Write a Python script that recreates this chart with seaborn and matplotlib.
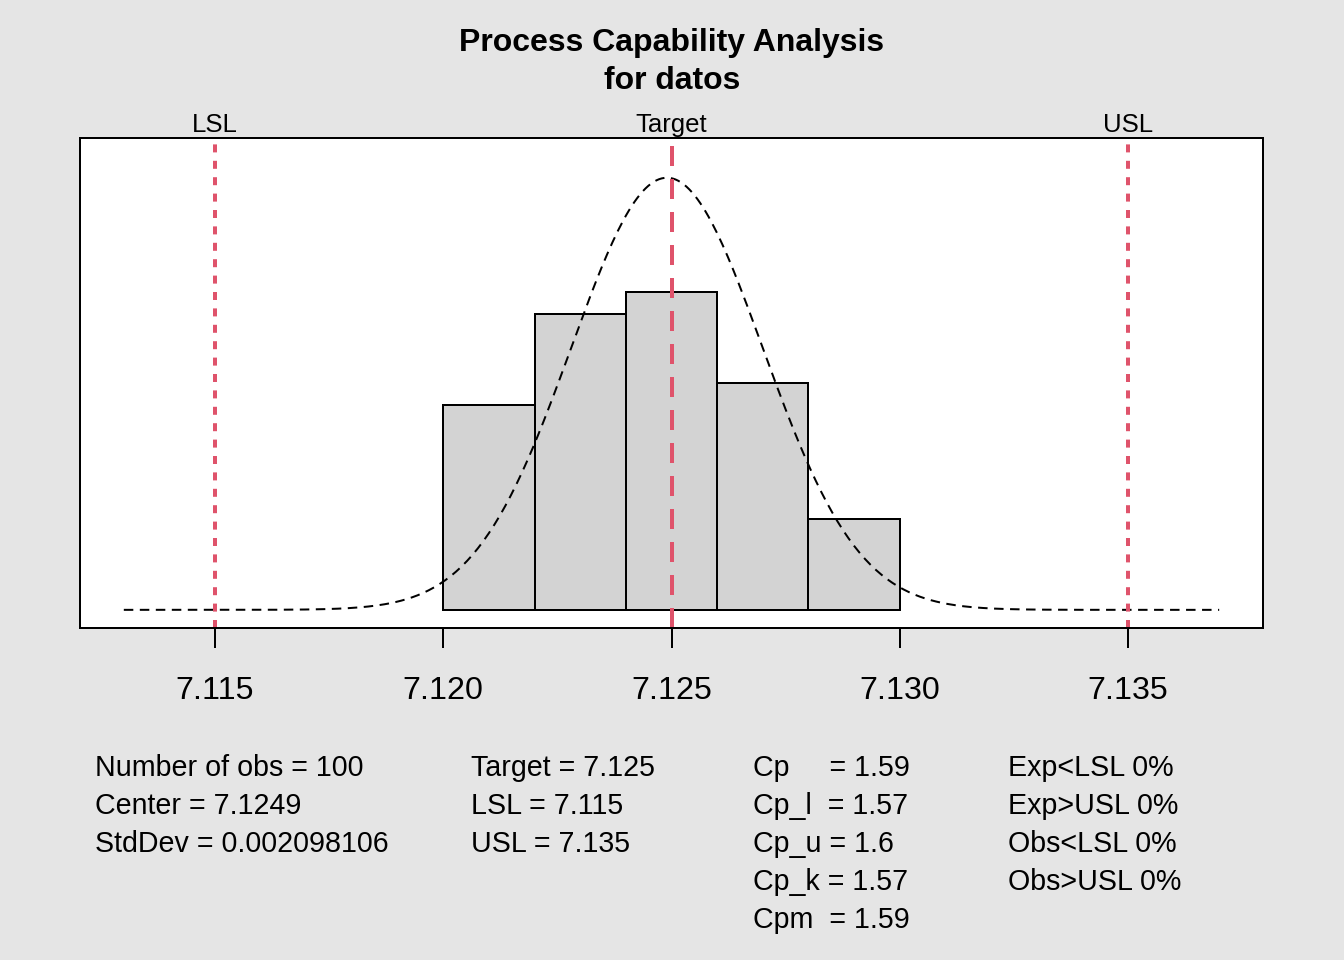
import numpy as np
import pandas as pd
import matplotlib
matplotlib.use("Agg")
import matplotlib.pyplot as plt
import matplotlib.transforms as mtransforms
import seaborn as sns

# ---- data ----
bin_edges = [7.120, 7.122, 7.124, 7.126, 7.128, 7.130]
bin_counts = [18, 26, 28, 20, 8]
n_obs = 100
center = 7.1249
std_dev = 0.002098106
LSL = 7.115
USL = 7.135
target = 7.125
curve_range = [7.113, 7.137]
x_ticks = [7.115, 7.120, 7.125, 7.130, 7.135]
x_tick_labels = ["7.115", "7.120", "7.125", "7.130", "7.135"]

col1 = ["Number of obs = 100", "Center = 7.1249", "StdDev = 0.002098106"]
col2 = ["Target = 7.125", "LSL = 7.115", "USL = 7.135"]
col3 = ["Cp     = 1.59", "Cp_l  = 1.57", "Cp_u = 1.6", "Cp_k = 1.57", "Cpm  = 1.59"]
col4 = ["Exp<LSL 0%", "Exp>USL 0%", "Obs<LSL 0%", "Obs>USL 0%"]

# ---- styling ----
sns.set_theme(style="white")
plt.rcParams["font.family"] = ["Liberation Sans", "DejaVu Sans"]
plt.rcParams["text.color"] = "black"
plt.rcParams["xtick.color"] = "black"
plt.rcParams["xtick.labelcolor"] = "black"
BG = "#E5E5E5"
RED = "#DF536B"

W, H = 1344, 960
fig = plt.figure(figsize=(W / 100, H / 100), dpi=100, facecolor=BG)
ax = fig.add_axes([80 / W, 1 - 628 / H, (1263 - 80) / W, (628 - 138) / H])
ax.set_facecolor("white")

mids = [(a + b) / 2 for a, b in zip(bin_edges[:-1], bin_edges[1:])]
hist_df = pd.DataFrame({"x": mids, "w": bin_counts})
sns.histplot(data=hist_df, x="x", weights="w", bins=bin_edges, stat="density",
             color="#D3D3D3", edgecolor="black", linewidth=1.44, alpha=1.0, ax=ax)

xs = np.linspace(curve_range[0], curve_range[1], 400)
dens = np.exp(-0.5 * ((xs - center) / std_dev) ** 2) / (std_dev * np.sqrt(2 * np.pi))
curve_df = pd.DataFrame({"x": xs, "d": dens})
sns.lineplot(data=curve_df, x="x", y="d", color="black", linewidth=1.44, ax=ax,
             linestyle=(0, (4.75, 3.25)))

# spec lines
ax.axvline(LSL, color=RED, linewidth=2.88, linestyle=(0, (2.0, 2.1)))
ax.axvline(USL, color=RED, linewidth=2.88, linestyle=(0, (2.0, 2.1)))
ax.axvline(target, color=RED, linewidth=2.88, linestyle=(0, (5.0, 3.25)))

trans = mtransforms.blended_transform_factory(ax.transData, ax.transAxes)
for xv, lab in [(LSL, "LSL"), (target, "Target"), (USL, "USL")]:
    ax.text(xv, 1 + 6 / 490, lab, transform=trans, ha="center", va="baseline",
            fontsize=18.5, color="black")

# limits
xmin, xmax = min(curve_range[0], LSL), max(curve_range[1], USL)
xr = xmax - xmin
ax.set_xlim(xmin - 0.04 * xr, xmax + 0.04 * xr)
ytop = max(dens.max(), max(c / (n_obs * 0.002) for c in bin_counts)) * 1.05
ax.set_ylim(-0.04 * ytop, ytop * 1.04)

ax.set_xticks(x_ticks)
ax.set_xticklabels(x_tick_labels, fontsize=23.2, color="black")
ax.set_yticks([])
ax.set_xlabel("")
ax.set_ylabel("")
ax.tick_params(axis="x", bottom=True, length=14.2, width=1.44, pad=20.5, color="black",
               labelcolor="black")
for sp in ax.spines.values():
    sp.set_visible(True)
    sp.set_color("black")
    sp.set_linewidth(1.44)

# title
fig.text(0.5, 1 - 51 / H, "Process Capability Analysis", ha="center", va="baseline",
         fontsize=23, fontweight="bold", color="black")
fig.text(0.5, 1 - 89 / H, "for datos", ha="center", va="baseline",
         fontsize=23, fontweight="bold", color="black")

# stats
base = [776, 814.5, 852, 890, 928]
for cx, col in [(95, col1), (471, col2), (753, col3), (1008, col4)]:
    for i, s in enumerate(col):
        fig.text(cx / W, 1 - base[i] / H, s, ha="left", va="baseline", fontsize=20.6,
                 color="black")

fig.savefig("out.png", dpi=100, facecolor=BG)
